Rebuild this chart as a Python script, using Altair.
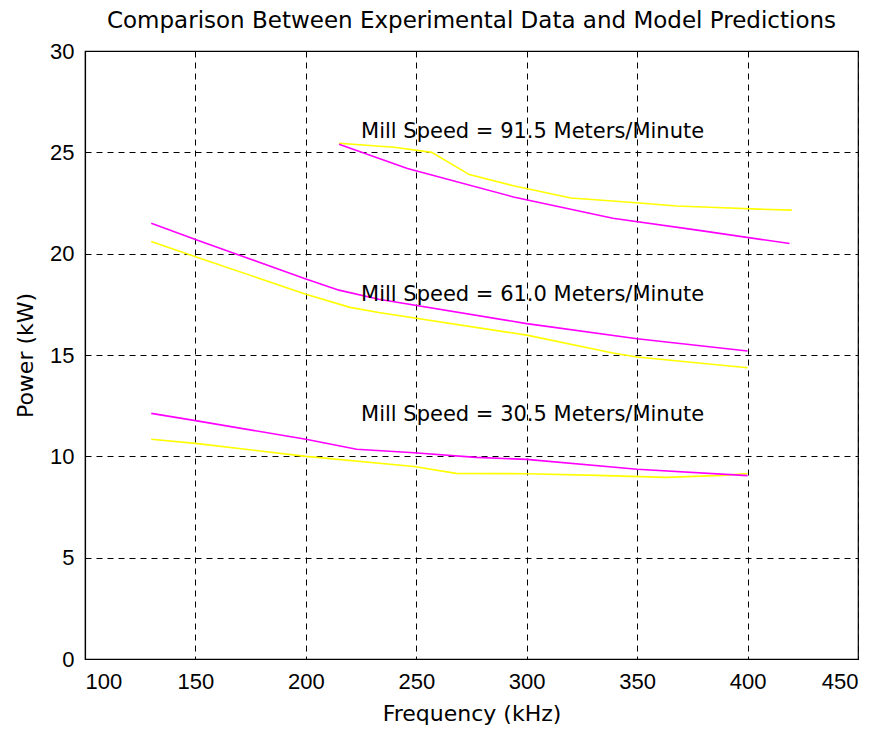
import altair as alt
import pandas as pd

# ---- data ----
freq_91_exp = [215, 240, 257, 274, 294, 320, 339, 351, 368, 386, 405, 420]
pow_91_exp = [25.45, 25.25, 25.0, 23.9, 23.35, 22.75, 22.6, 22.5, 22.35, 22.28, 22.2, 22.15]
freq_91_mod = [215, 246, 294, 339, 378, 419]
pow_91_mod = [25.4, 24.2, 22.8, 21.75, 21.15, 20.5]

freq_61_exp = [130, 150, 200, 220, 233, 300, 339, 350, 400]
pow_61_exp = [20.6, 19.85, 18.0, 17.35, 17.1, 15.98, 15.1, 14.9, 14.37]
freq_61_mod = [130, 150, 200, 215, 233, 300, 350, 400]
pow_61_mod = [21.5, 20.7, 18.75, 18.2, 17.75, 16.55, 15.8, 15.2]

freq_30_exp = [130, 150, 200, 249, 268, 300, 332, 363, 389, 400]
pow_30_exp = [10.84, 10.64, 10.0, 9.5, 9.16, 9.14, 9.06, 8.96, 9.06, 9.15]
freq_30_mod = [130, 150, 200, 223, 249, 277, 300, 350, 400]
pow_30_mod = [12.12, 11.76, 10.84, 10.35, 10.18, 9.95, 9.85, 9.36, 9.05]

label_texts = ["Mill Speed = 91.5 Meters/Minute",
               "Mill Speed = 61.0 Meters/Minute",
               "Mill Speed = 30.5 Meters/Minute"]
label_x = [225, 225, 225]
label_y = [26.0, 17.95, 12.05]

x_ticks = [100, 150, 200, 250, 300, 350, 400, 450]
y_ticks = [0, 5, 10, 15, 20, 25, 30]

# ---- tables ----
rows = []
def add(fs, ps, kind, speed):
    for f, p in zip(fs, ps):
        rows.append({"freq": f, "power": p, "kind": kind, "speed": speed})

add(freq_91_exp, pow_91_exp, "Experimental", "91.5")
add(freq_91_mod, pow_91_mod, "Model", "91.5")
add(freq_61_exp, pow_61_exp, "Experimental", "61.0")
add(freq_61_mod, pow_61_mod, "Model", "61.0")
add(freq_30_exp, pow_30_exp, "Experimental", "30.5")
add(freq_30_mod, pow_30_mod, "Model", "30.5")
df = pd.DataFrame(rows)
df["series"] = df["kind"] + "_" + df["speed"]

labels = pd.DataFrame({"x": label_x, "y": label_y, "text": label_texts})

xscale = alt.Scale(domain=[100, 450], nice=False, zero=False)
yscale = alt.Scale(domain=[0, 30], nice=False, zero=False)

xaxis = alt.Axis(values=x_ticks, title="Frequency (kHz)", format="d")
yaxis = alt.Axis(values=y_ticks, title="Power (kW)", format="d")

lines = alt.Chart(df).mark_line(strokeWidth=1.6).encode(
    x=alt.X("freq:Q", scale=xscale, axis=xaxis),
    y=alt.Y("power:Q", scale=yscale, axis=yaxis),
    color=alt.Color("kind:N",
                    scale=alt.Scale(domain=["Experimental", "Model"],
                                    range=["#FFFF00", "#FF00FF"]),
                    legend=None),
    detail="series:N",
    order="freq:Q",
)

text = alt.Chart(labels).mark_text(
    align="left", baseline="middle", font="DejaVu Sans", fontSize=21, color="black"
).encode(
    x=alt.X("x:Q", scale=xscale),
    y=alt.Y("y:Q", scale=yscale),
    text="text:N",
)

chart = alt.layer(lines, text).properties(
    width=773,
    height=608,
    background="white",
    title=alt.TitleParams(
        "Comparison Between Experimental Data and Model Predictions",
        font="DejaVu Sans", fontSize=23, fontWeight="normal", color="black",
        anchor="middle", offset=7,
    ),
    autosize=alt.AutoSizeParams(type="none"),
    padding={"left": 77, "top": 43, "right": 15, "bottom": 66},
).configure_view(
    stroke="black", strokeWidth=1.2
).configure_axis(
    grid=True, gridColor="black", gridDash=[6, 5], gridOpacity=1, gridWidth=1,
    domainColor="black", domainWidth=1.2, ticks=False,
    labelFont="Liberation Sans", labelFontSize=22, labelColor="black",
    titleFont="DejaVu Sans", titleFontSize=22, titleFontWeight="normal", titleColor="black",
).configure_axisX(
    labelPadding=12, titlePadding=11,
).configure_axisY(
    labelPadding=11, titlePadding=12,
)

chart.save("out.html", embed_options={"renderer": "svg", "actions": False})
